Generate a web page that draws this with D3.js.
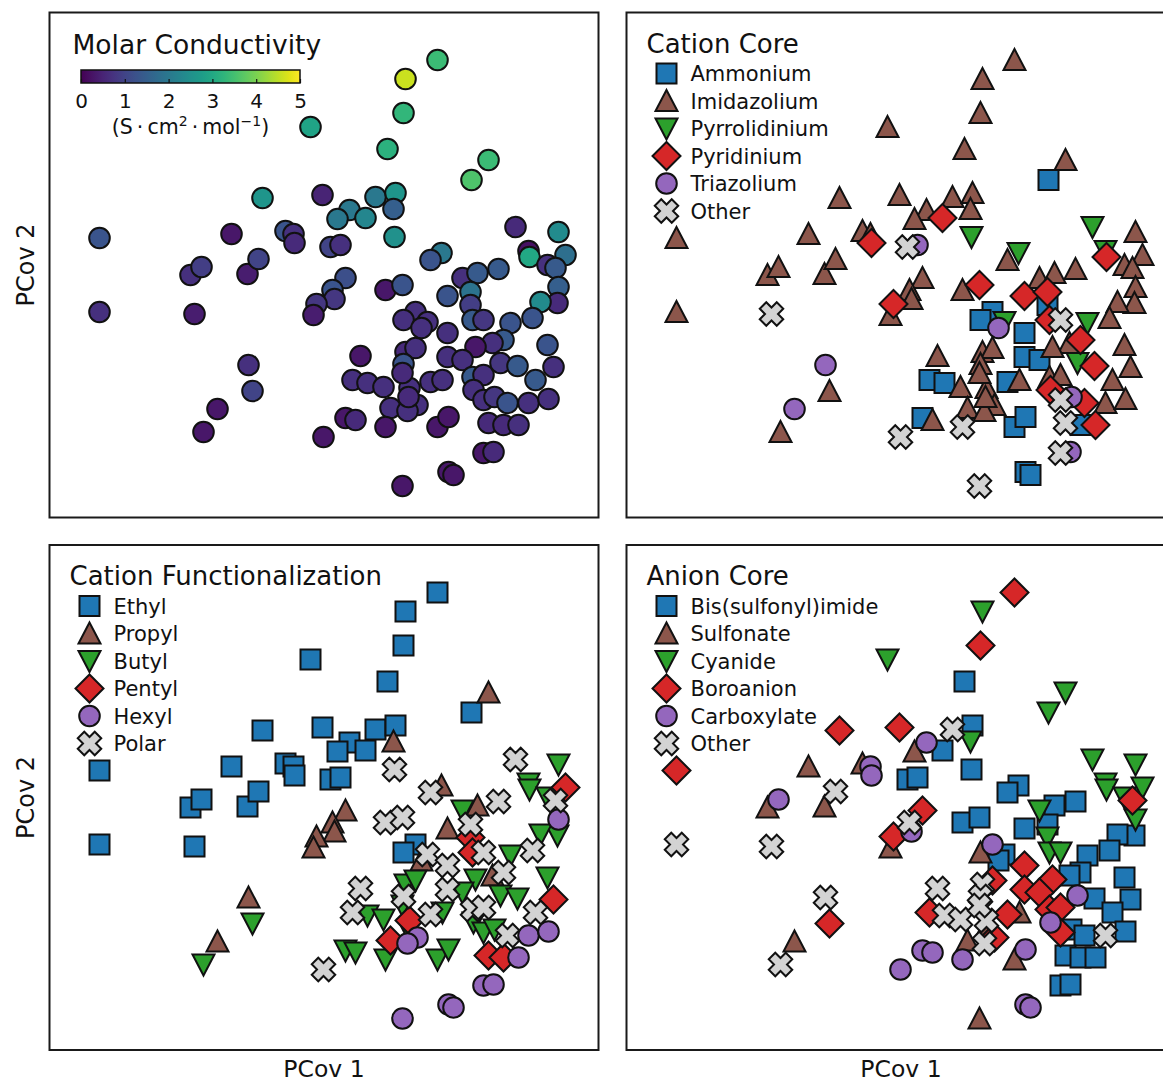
<!DOCTYPE html>
<html>
<head>
<meta charset="utf-8">
<script src="https://cdn.jsdelivr.net/npm/d3@7"></script>
<style>
  html, body { margin: 0; padding: 0; background: #ffffff; overflow: hidden; }
  text { font-family: "DejaVu Sans", sans-serif; fill: #111; }
</style>
</head>
<body>
<svg id="fig" width="1163" height="1084"></svg>
<script>
// Principal covariate scores of each ionic liquid
const pc1 = [1.135, 0.815, 0.795, -0.135, 0.635, 1.645, 1.475, -0.615, -0.015, 0.515,
  0.715, 0.695, 0.255, 0.135, 0.415, 1.915, 2.345, 0.705, -2.245, -0.925,
  -0.385, -0.305, -0.295, 0.065, 0.165, 1.175, 1.065, 2.045, 2.055, 2.415,
  2.235, 2.315, 0.215, 0.085, 0.105, -0.075, -0.105, 0.615, 0.785, 1.385,
  1.535, 1.745, 1.235, 1.465, 1.465, 2.345, 2.335, 2.165, 2.085, 0.915,
  0.795, 1.035, 0.975, 1.235, 1.485, 1.595, 1.865, 1.795, 1.685, 1.515,
  2.235, 0.365, 0.815, 0.915, 1.235, 1.385, 0.795, 1.765, 1.935, 2.295,
  0.285, 0.435, 0.595, 0.855, 1.065, 1.185, 1.485, 1.595, 2.115, 1.495,
  1.595, 1.705, 1.835, 2.045, 2.245, 0.665, 0.935, 0.835, -0.005, 0.215,
  0.315, 0.615, 1.135, 1.245, 1.645, 1.795, 1.945, 1.595, 1.695, 1.245,
  1.295, 0.785, -1.335, -1.225, -0.765, -0.655, -2.245, -1.295, -0.755, -0.715,
  -1.065, -1.205, 0.785, 0.845];
const pc2 = [2.05, 1.86, 1.52, 1.38, 1.16, 1.05, 0.85, 0.67, 0.70, 0.68,
  0.72, 0.56, 0.55, 0.46, 0.47, 0.38, 0.33, 0.28, 0.27, 0.31,
  0.34, 0.31, 0.22, 0.18, 0.20, 0.12, 0.05, 0.14, 0.08, 0.10,
  0.00, -0.03, -0.13, -0.25, -0.34, -0.39, -0.50, -0.25, -0.20, -0.13,
  -0.08, -0.04, -0.31, -0.27, -0.40, -0.22, -0.38, -0.37, -0.53, -0.47,
  -0.55, -0.57, -0.63, -0.68, -0.55, -0.55, -0.58, -0.75, -0.78, -0.82,
  -0.80, -0.91, -0.87, -0.83, -0.92, -0.95, -0.99, -0.98, -1.01, -1.02,
  -1.15, -1.18, -1.22, -1.23, -1.17, -1.15, -1.12, -1.10, -1.15, -1.25,
  -1.35, -1.32, -1.38, -1.38, -1.34, -1.43, -1.40, -1.46, -1.72, -1.53,
  -1.55, -1.62, -1.62, -1.52, -1.58, -1.60, -1.60, -1.88, -1.87, -2.07,
  -2.10, -2.21, -0.10, -0.02, -0.09, 0.06, -0.47, -0.49, -1.00, -1.26,
  -1.44, -1.67, -1.08, -1.32];
// Molar conductivity, S·cm²·mol⁻¹
const conductivity = [3.4, 4.6, 3.3, 2.9, 3.2, 3.4, 3.6, 2.6, 0.5, 2.0,
  2.6, 1.5, 2.0, 2.0, 2.3, 0.6, 2.4, 2.5, 1.3, 0.3,
  1.3, 0.7, 0.6, 1.0, 0.7, 2.0, 1.3, 0.2, 3.0, 1.8,
  0.7, 1.4, 1.2, 1.3, 0.8, 0.8, 0.4, 0.3, 1.3, 0.7,
  1.4, 1.4, 1.3, 1.9, 0.9, 1.5, 0.6, 2.4, 1.3, 0.7,
  0.7, 0.7, 0.7, 0.7, 1.4, 0.8, 1.3, 1.4, 0.7, 0.3,
  1.3, 0.3, 0.6, 0.7, 0.7, 0.7, 1.3, 0.8, 1.4, 0.7,
  0.7, 0.7, 0.7, 0.7, 0.7, 0.7, 1.4, 0.7, 1.4, 0.7,
  0.7, 0.8, 1.3, 0.7, 0.7, 0.7, 0.7, 0.7, 0.3, 0.3,
  0.6, 0.3, 0.3, 0.3, 0.6, 0.6, 0.7, 0.3, 0.6, 0.3,
  0.3, 0.3, 0.7, 0.9, 0.4, 1.0, 0.7, 0.4, 0.7, 1.0,
  0.3, 0.3, 0.6, 0.6];
// Category indices into the label lists below
const cationCore = [1, 1, 1, 1, 1, 1, 0, 1, 1, 1,
  1, 1, 1, 1, 3, 2, 1, 2, 1, 1,
  1, 1, 3, 5, 4, 2, 1, 2, 3, 1,
  1, 1, 1, 1, 1, 3, 1, 1, 3, 1,
  1, 1, 3, 3, 0, 1, 1, 1, 1, 0,
  0, 2, 4, 0, 3, 5, 2, 3, 1, 1,
  1, 1, 1, 1, 0, 0, 1, 2, 3, 1,
  0, 0, 1, 1, 0, 1, 1, 1, 1, 3,
  5, 4, 3, 1, 1, 1, 1, 1, 5, 0,
  1, 5, 0, 0, 5, 0, 3, 5, 4, 0,
  0, 5, 1, 1, 1, 1, 1, 5, 4, 1,
  4, 1, 1, 1];
const cationFunc = [0, 0, 0, 0, 0, 1, 0, 0, 0, 0,
  0, 1, 0, 0, 0, 5, 2, 5, 0, 0,
  0, 0, 0, 0, 0, 1, 5, 2, 2, 3,
  2, 5, 1, 1, 1, 1, 1, 5, 5, 2,
  1, 5, 1, 5, 3, 4, 2, 2, 5, 0,
  0, 5, 1, 5, 3, 5, 2, 5, 1, 2,
  2, 5, 2, 2, 5, 2, 5, 2, 2, 3,
  5, 2, 2, 3, 5, 2, 5, 5, 5, 2,
  2, 2, 5, 4, 4, 3, 4, 4, 5, 2,
  2, 2, 2, 2, 3, 3, 4, 4, 4, 4,
  4, 4, 0, 0, 0, 0, 0, 0, 1, 2,
  1, 2, 2, 2];
const anionCore = [3, 2, 3, 2, 0, 2, 2, 3, 3, 5,
  0, 2, 4, 1, 0, 2, 2, 0, 3, 1,
  1, 4, 4, 0, 0, 0, 0, 2, 2, 2,
  2, 3, 3, 5, 4, 3, 1, 0, 0, 2,
  0, 0, 0, 0, 2, 2, 0, 0, 0, 4,
  1, 0, 0, 3, 2, 2, 0, 0, 0, 3,
  0, 5, 5, 3, 3, 3, 5, 4, 0, 0,
  3, 5, 5, 5, 3, 1, 3, 3, 0, 4,
  3, 0, 0, 5, 0, 1, 3, 5, 4, 4,
  4, 4, 1, 4, 0, 0, 0, 0, 0, 4,
  4, 1, 1, 4, 1, 5, 5, 5, 5, 3,
  1, 5, 5, 1];

const cationCoreLabels = ["Ammonium", "Imidazolium", "Pyrrolidinium", "Pyridinium", "Triazolium", "Other"];
const cationFuncLabels = ["Ethyl", "Propyl", "Butyl", "Pentyl", "Hexyl", "Polar"];
const anionCoreLabels = ["Bis(sulfonyl)imide", "Sulfonate", "Cyanide", "Boroanion", "Carboxylate", "Other"];
const colorbarTicks = [0, 1, 2, 3, 4, 5];

// One marker style per category slot, shared by all three categorical panels
const markerShapes = ["square", "triangleUp", "triangleDown", "diamond", "circle", "cross"];
const markerFills = ["#1f77b4", "#8c564b", "#2ca02c", "#d62728", "#9467bd", "#d3d3d3"];

const svg = d3.select("#fig");
const W = 549, H = 505;
const x = d3.scaleLinear().domain([-2.745, 2.745]).range([0, W]);
const y = d3.scaleLinear().domain([-2.525, 2.525]).range([H, 0]);
const color = d3.scaleSequential(d3.interpolateViridis).domain([0, 5]);

const points = pc1.map((v, i) => ({
  pc1: v, pc2: pc2[i], cond: conductivity[i],
  cationCore: cationCore[i], cationFunc: cationFunc[i], anionCore: anionCore[i]
}));

function crossPath(a, b) {
  const pts = [[b,-a],[b,-b],[a,-b],[a,b],[b,b],[b,a],[-b,a],[-b,b],[-a,b],[-a,-b],[-b,-b],[-b,-a]];
  const c = Math.SQRT1_2;
  return "M" + pts.map(([px, py]) => [(px - py) * c, (px + py) * c].map(v => v.toFixed(2)).join(",")).join("L") + "Z";
}
const shapePaths = {
  square: "M-10,-10H10V10H-10Z",
  triangleUp: "M0,-11L11,10L-11,10Z",
  triangleDown: "M0,11L11,-10L-11,-10Z",
  diamond: "M0,-14L14,0L0,14L-14,0Z",
  circle: d3.symbol(d3.symbolCircle, Math.PI * 10.3 * 10.3)(),
  cross: crossPath(12, 4.6)
};

const panels = [
  { left: 49.5, top: 12.5 },
  { left: 626.5, top: 12.5 },
  { left: 49.5, top: 545 },
  { left: 626.5, top: 545 }
];

function makePanel(p) {
  const g = svg.append("g").attr("transform", `translate(${p.left},${p.top})`);
  g.append("rect").attr("width", W).attr("height", H).attr("fill", "#fff");
  return g;
}
function frame(g) {
  g.append("rect").attr("width", W).attr("height", H)
    .attr("fill", "none").attr("stroke", "#1a1a1a").attr("stroke-width", 2);
}

// --- Molar conductivity panel ---
{
  const g = makePanel(panels[0]);
  g.append("g").selectAll("circle").data(points).join("circle")
    .attr("cx", d => x(d.pc1)).attr("cy", d => y(d.pc2)).attr("r", 10.3)
    .attr("fill", d => color(d.cond))
    .attr("stroke", "#111").attr("stroke-width", 2);

  g.append("text").attr("x", 23).attr("y", 41)
    .style("font-size", "26.5px").text("Molar Conductivity");

  const cb = d3.scaleLinear().domain([0, 5]).range([31.5, 250.5]);
  const defs = svg.append("defs");
  const grad = defs.append("linearGradient").attr("id", "viridisBar");
  d3.range(0, 1.0001, 0.05).forEach(t => {
    grad.append("stop").attr("offset", `${t * 100}%`).attr("stop-color", d3.interpolateViridis(t));
  });
  g.append("rect").attr("x", cb.range()[0]).attr("y", 57.5)
    .attr("width", cb.range()[1] - cb.range()[0]).attr("height", 13)
    .attr("fill", "url(#viridisBar)").attr("stroke", "#111").attr("stroke-width", 1.5);
  const cbAxis = g.append("g").attr("transform", "translate(0,70.5)")
    .call(d3.axisBottom(cb).tickValues(colorbarTicks).tickFormat(d3.format("d"))
      .tickSizeInner(-4).tickSizeOuter(0).tickPadding(11));
  cbAxis.attr("font-size", 20).attr("font-family", "'DejaVu Sans', sans-serif");
  cbAxis.select(".domain").remove();
  cbAxis.selectAll(".tick line").attr("stroke", "#111").attr("stroke-width", 1.2);
  cbAxis.selectAll(".tick text").attr("fill", "#111");

  const unit = g.append("text").attr("x", 141).attr("y", 121.5)
    .attr("text-anchor", "middle").style("font-size", "20.5px");
  unit.append("tspan").text("(S\u2009·\u2009cm");
  unit.append("tspan").attr("dy", -8).style("font-size", "14px").text("2");
  unit.append("tspan").attr("dy", 8).text("\u2009·\u2009mol");
  unit.append("tspan").attr("dy", -8).style("font-size", "14px").text("\u22121");
  unit.append("tspan").attr("dy", 8).text(")");
  frame(g);
}

// --- Categorical panels ---
function categoryPanel(p, key, title, labels) {
  const g = makePanel(p);
  labels.forEach((lab, k) => {
    g.append("g").selectAll("path").data(points.filter(d => d[key] === k)).join("path")
      .attr("transform", d => `translate(${x(d.pc1)},${y(d.pc2)})`)
      .attr("d", shapePaths[markerShapes[k]])
      .attr("fill", markerFills[k])
      .attr("stroke", "#111").attr("stroke-width", 2).attr("stroke-linejoin", "miter");
  });
  g.append("text").attr("x", 20).attr("y", 40)
    .style("font-size", "26px").text(title);
  const leg = g.append("g").attr("transform", "translate(40,61)");
  labels.forEach((lab, k) => {
    const row = leg.append("g").attr("transform", `translate(0,${k * 27.5})`);
    row.append("path").attr("d", shapePaths[markerShapes[k]])
      .attr("fill", markerFills[k]).attr("stroke", "#111").attr("stroke-width", 2);
    row.append("text").attr("x", 24).attr("y", 7.5)
      .style("font-size", "21px").text(lab);
  });
  frame(g);
}
categoryPanel(panels[1], "cationCore", "Cation Core", cationCoreLabels);
categoryPanel(panels[2], "cationFunc", "Cation Functionalization", cationFuncLabels);
categoryPanel(panels[3], "anionCore", "Anion Core", anionCoreLabels);

// --- Axis titles ---
[265, 797.5].forEach(cy => {
  svg.append("text").attr("transform", `translate(34,${cy}) rotate(-90)`)
    .attr("text-anchor", "middle").style("font-size", "24px").text("PCov 2");
});
[324, 901].forEach(cx => {
  svg.append("text").attr("x", cx).attr("y", 1077)
    .attr("text-anchor", "middle").style("font-size", "23.5px").text("PCov 1");
});
</script>
</body>
</html>
